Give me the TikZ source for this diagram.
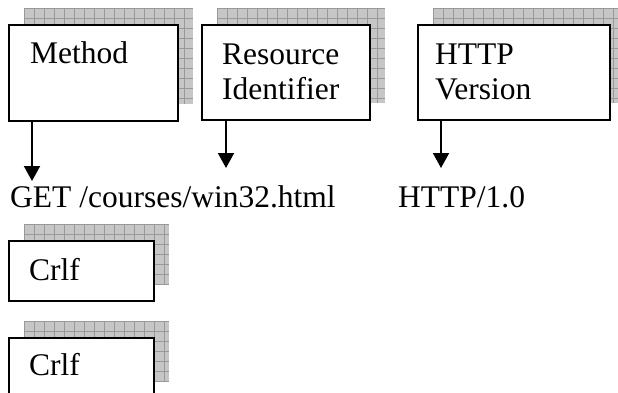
\documentclass[tikz,border=0pt]{standalone}
\usepackage{fontspec}
\setmainfont{Liberation Serif}
\usetikzlibrary{arrows.meta}
\newcommand\gridshadow[4]{%
  \begin{scope}
    \clip (#1,#2) rectangle (#3,#4);
    \fill[shadowbase] (#1,#2) rectangle (#3,#4);
    \foreach \i in {0,...,20} {
      \draw[shadowline] (#1+10*\i,#2) -- (#1+10*\i,#4);
      \draw[shadowline] (#1,#2+10*\i) -- (#3,#2+10*\i);
    }
  \end{scope}}
\begin{document}
\begin{tikzpicture}[x=1pt,y=-1pt,
  box/.style={draw=black,line width=2.2pt,fill=white,inner sep=0pt,anchor=north west},
  lbl/.style={anchor=base west,inner sep=0pt,align=left,font=\fontsize{31.5}{35}\selectfont},
  conn/.style={line width=2pt,-{Triangle[length=15pt,width=16pt]}},
  shadowbase/.style={fill=gray!45},
  shadowline/.style={draw=gray!80,line width=0.7pt},
]
\useasboundingbox (0,0) rectangle (618,393);
\clip (0,0) rectangle (618,393);
% shadows
\gridshadow{24}{8}{193}{104}
\gridshadow{217}{8}{385}{103}
\gridshadow{433}{8}{630}{103}
\gridshadow{24}{224}{169}{284}
\gridshadow{24}{321}{169}{382}
% boxes
\node[box,minimum width=169pt,minimum height=96pt] (method) at (8,24) {};
\node[box,minimum width=168pt,minimum height=95pt] (resource) at (201,24) {};
\node[box,minimum width=192pt,minimum height=95pt] (version) at (417,24) {};
\node[box,minimum width=145pt,minimum height=60pt] (crlfa) at (8,240) {};
\node[box,minimum width=145pt,minimum height=60pt] (crlfb) at (8,337) {};
% box texts (base = last line)
\node[lbl] (methodtxt) at (30,64) {Method};
\node[lbl] (resourcetxt) at (222,100) {Resource\\Identifier};
\node[lbl] (versiontxt) at (435,100) {HTTP\\Version};
\node[lbl] (crlfatxt) at (29,280) {Crlf};
\node[lbl] (crlfbtxt) at (29,375) {Crlf};
% request line
\node[lbl] (get) at (10,207) {GET /courses/win32.html};
\node[lbl] (ver) at (398,207) {HTTP/1.0};
% arrow tips
\coordinate (tipa) at (32,181);
\coordinate (tipb) at (226,168);
\coordinate (tipc) at (441,168);
\draw[conn] (method.south -| tipa) -- (tipa);
\draw[conn] (resource.south -| tipb) -- (tipb);
\draw[conn] (version.south -| tipc) -- (tipc);
\end{tikzpicture}
\end{document}
